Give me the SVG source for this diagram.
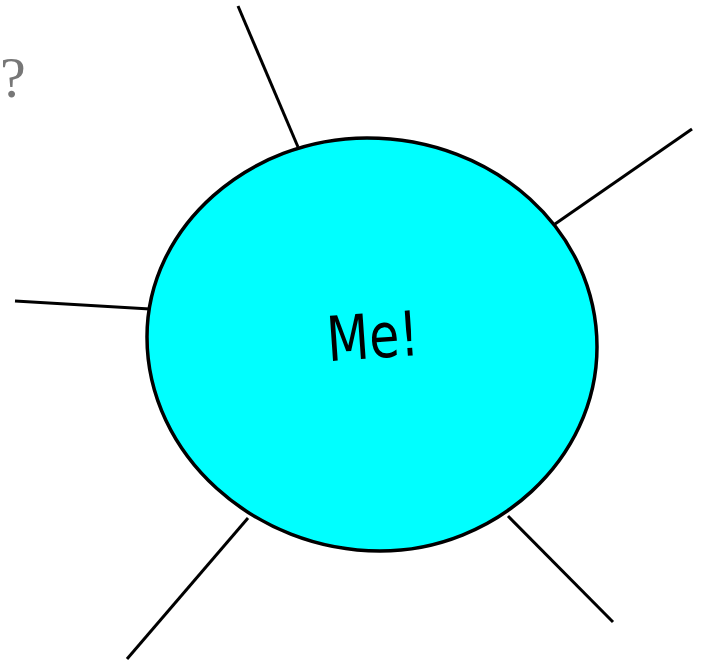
<svg xmlns="http://www.w3.org/2000/svg" width="705" height="662" viewBox="0 0 705 662">
<style>
.edge{stroke:#000;stroke-width:3;fill:none}
.blob{fill:#00ffff;stroke:#000;stroke-width:3.5}
.lbl{font-family:"DejaVu Sans",sans-serif;font-size:62px;fill:#000}
.q{font-family:"Liberation Serif",serif;font-size:58px;fill:#777}
</style>
<g id="connectors">
<line class="edge" x1="238" y1="6" x2="298" y2="147"/>
<line class="edge" x1="692" y1="129" x2="555" y2="224"/>
<line class="edge" x1="15" y1="301" x2="150" y2="309"/>
<line class="edge" x1="127" y1="659" x2="248" y2="518"/>
<line class="edge" x1="613" y1="622" x2="508" y2="516"/>
</g>
<g id="me">
<path class="blob" d="M147,337 C147,226 250,138 367,138 C495,138 597,231 597,347 C597,460 495,551 380,551 C255,551 147,455 147,337 Z"/>
<text class="lbl" x="327" y="358" textLength="92" lengthAdjust="spacingAndGlyphs" transform="rotate(-4 374 340)">Me!</text>
</g>
<g id="question">
<text class="q" x="0" y="97">?</text>
</g>
</svg>
